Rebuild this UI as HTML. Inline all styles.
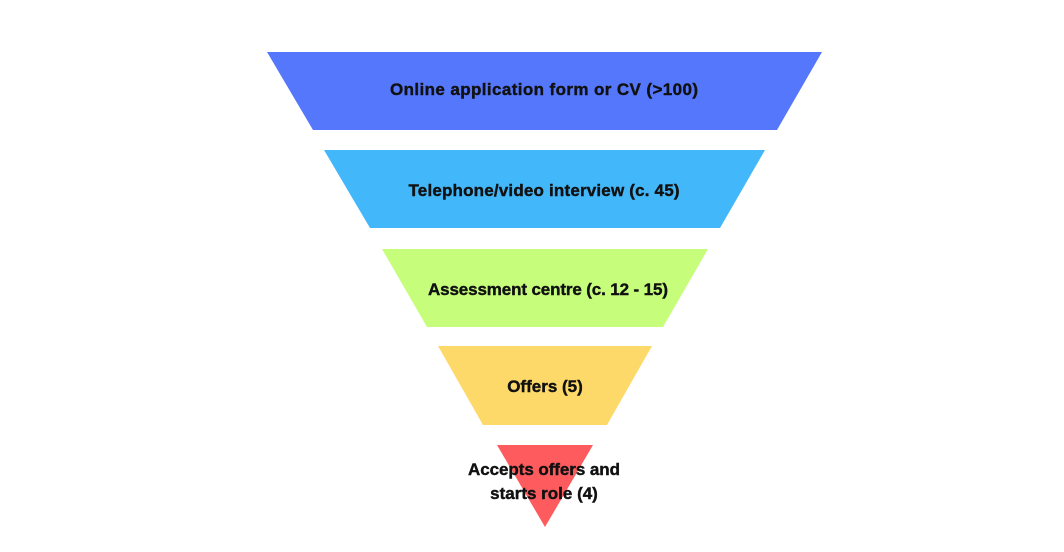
<!DOCTYPE html>
<html><head><meta charset="utf-8"><style>
html,body{margin:0;padding:0;background:#fff;width:1064px;height:552px;overflow:hidden}
text{font-family:"Liberation Sans",sans-serif;font-weight:bold;font-size:17px;fill:#111;stroke:#111;stroke-width:0.4}
</style></head><body>
<svg width="1064" height="552" viewBox="0 0 1064 552">
<polygon points="267,52 822,52 777,130 313,130" fill="#5577fc"/>
<polygon points="324,150 765,150 720,228 370,228" fill="#42b8fb"/>
<polygon points="382,249 708,249 663,327 427,327" fill="#c6fd7b"/>
<polygon points="438,346 652,346 607,425 483,425" fill="#fdd96a"/>
<polygon points="497,445 593,445 545,527" fill="#fd5b5d"/>
<text x="544" y="95" text-anchor="middle" textLength="308">Online application form or CV (&gt;100)</text>
<text x="544" y="196" text-anchor="middle" textLength="271">Telephone/video interview (c. 45)</text>
<text x="548" y="295" text-anchor="middle" textLength="240">Assessment centre (c. 12 - 15)</text>
<text x="545" y="392" text-anchor="middle">Offers (5)</text>
<text x="544" y="475" text-anchor="middle" textLength="152">Accepts offers and</text>
<text x="544" y="499" text-anchor="middle">starts role (4)</text>
</svg>
</body></html>
